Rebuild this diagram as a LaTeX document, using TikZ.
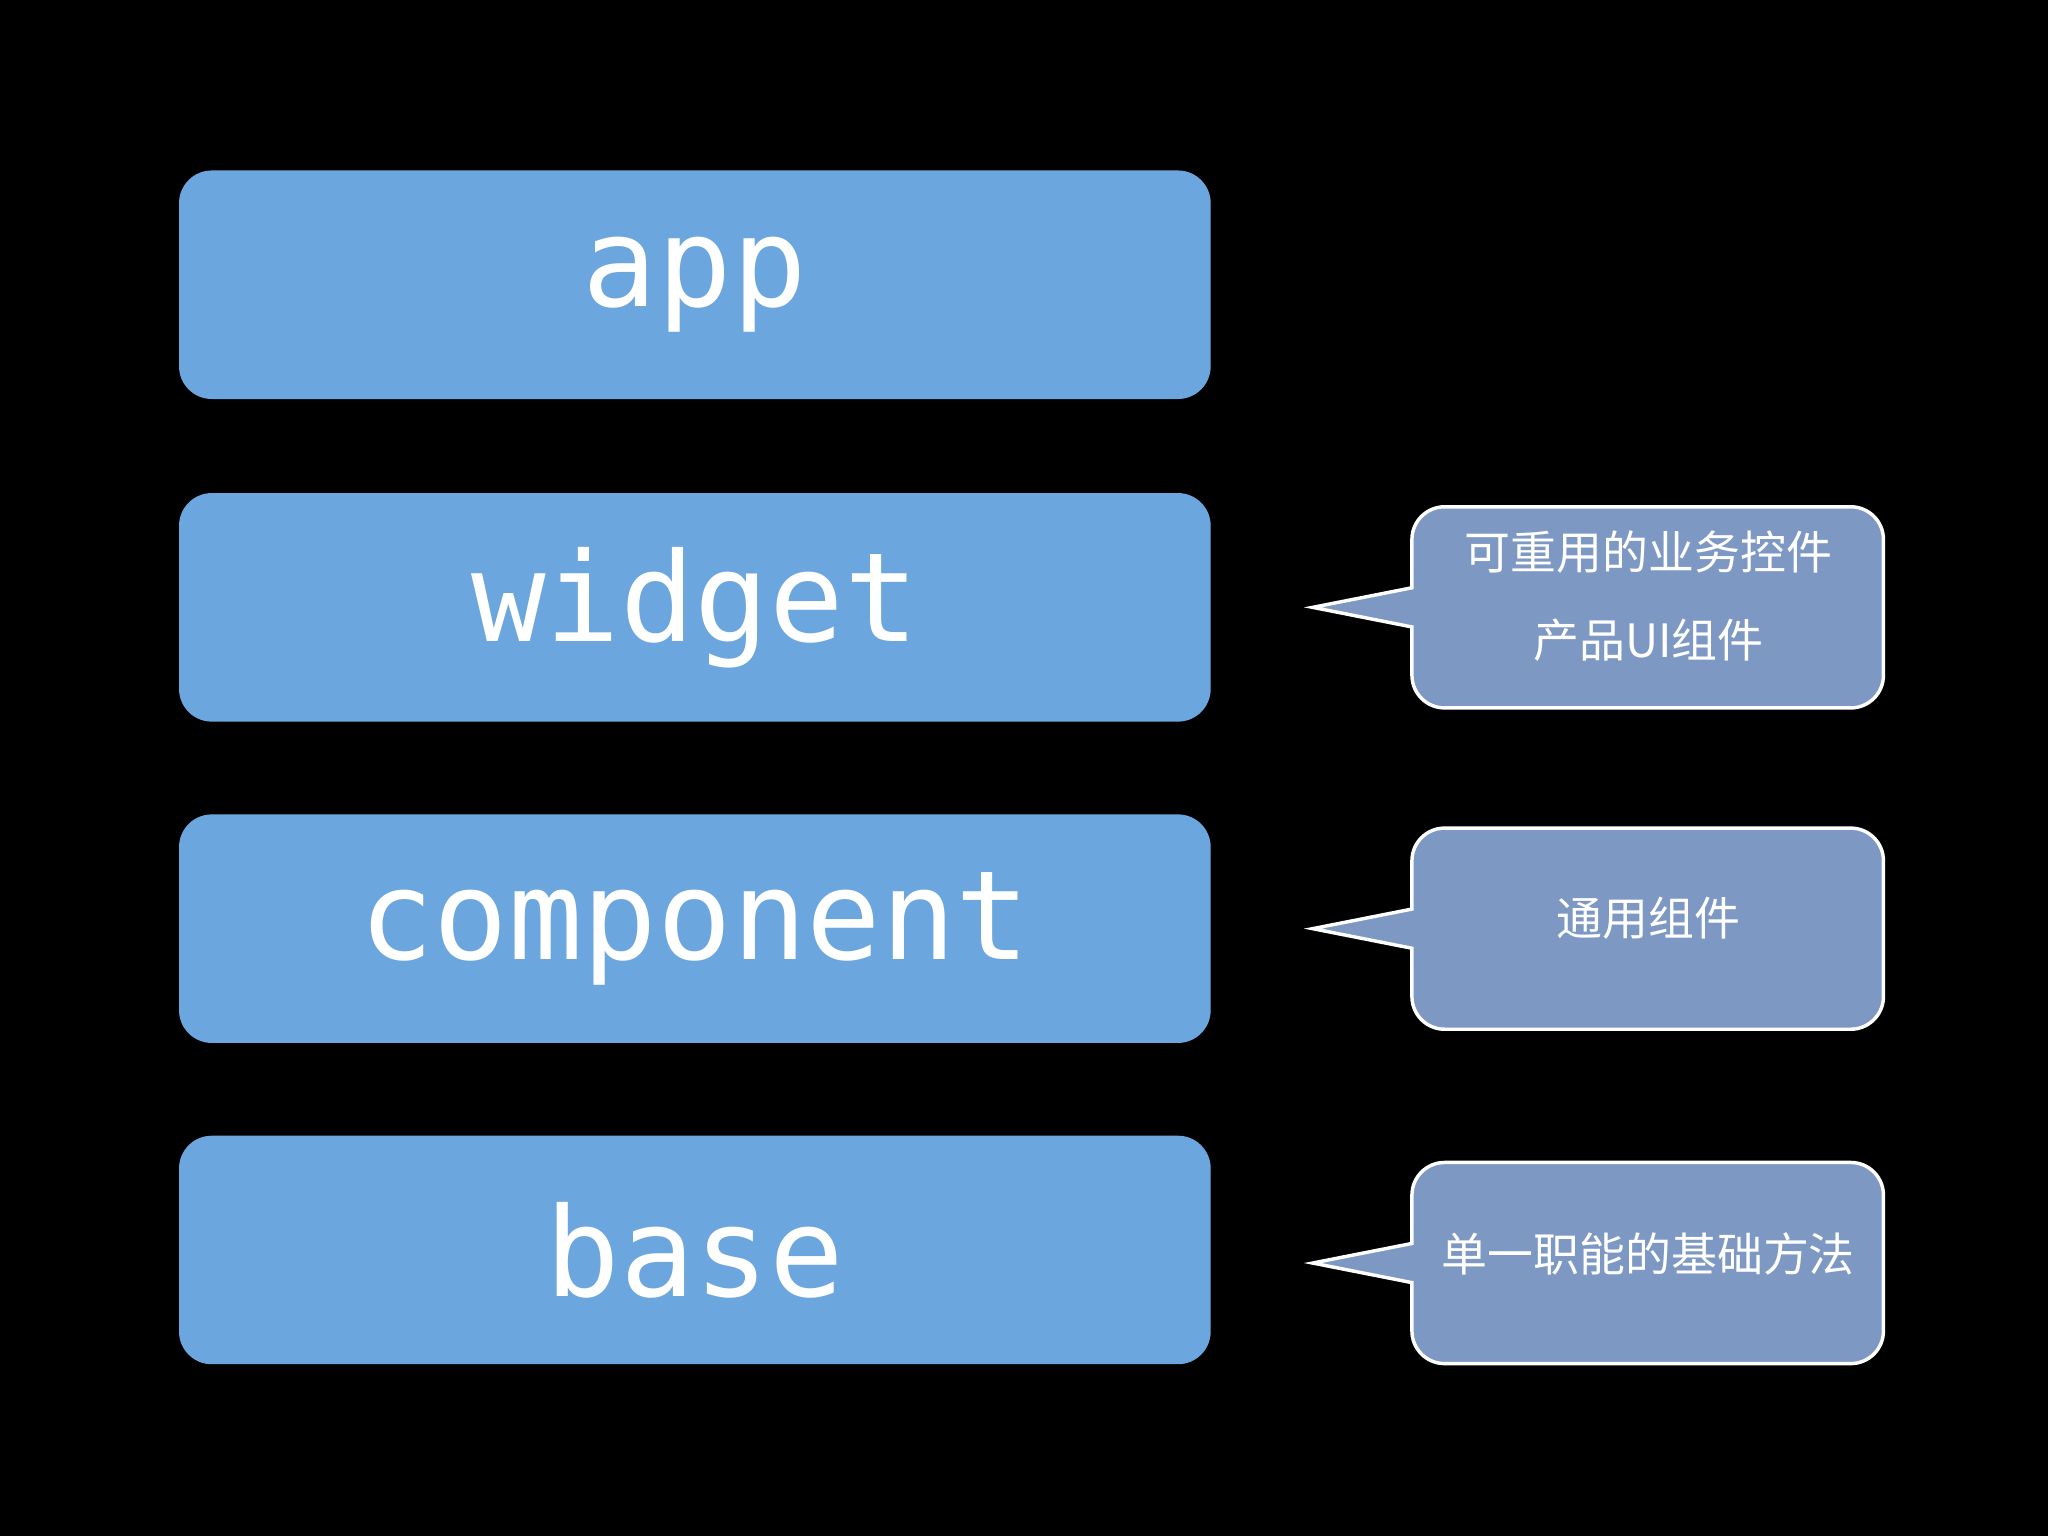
\documentclass[tikz,border=0pt]{standalone}
\usepackage{fontspec}
\setmainfont{DejaVu Sans Mono}
\newfontfamily\cjk{Noto Sans CJK SC}
\begin{document}
\begin{tikzpicture}[x=0.02cm,y=-0.02cm,
  layer/.style={fill=layerblue,rounded corners=0.5cm,minimum width=15.8cm,minimum height=3.5cm,inner sep=0pt},
  ltext/.style={text=white,font=\fontsize{54}{60}\selectfont},
  callout/.style={fill=callblue,draw=white,line width=1.5pt},
  ctext/.style={text=white,font=\cjk\fontsize{20}{24}\selectfont}]
\definecolor{layerblue}{RGB}{108,166,222}
\definecolor{callblue}{RGB}{126,152,196}
\fill[black] (0,0) rectangle (1568,1176);
\foreach \n/\y/\t in {app/218/app, widget/465/widget, component/711/component, base/957/base}{
  \node[layer] (\n) at (532,\y) {};
  \node[ltext] (\n-t) at (532,\y) {\t};
}
\foreach \n/\y in {c1/465,c2/711,c3/967}{
  \coordinate (\n-tip) at (1005,\y);
  \draw[callout] (1081,\y-15) -- (\n-tip) -- (1081,\y+15) [rounded corners=0.5cm] -- (1081,\y+77) -- (1442,\y+77) -- (1442,\y-77) -- (1081,\y-77) [sharp corners] -- cycle;
}
\node[ctext] (t1a) at (1262,423) {可重用的业务控件};
\node[ctext] (t1b) at (1262,490) {产品UI组件};
\node[ctext] (t2) at (1262,703) {通用组件};
\node[ctext] (t3) at (1262,960) {单一职能的基础方法};
\end{tikzpicture}
\end{document}
